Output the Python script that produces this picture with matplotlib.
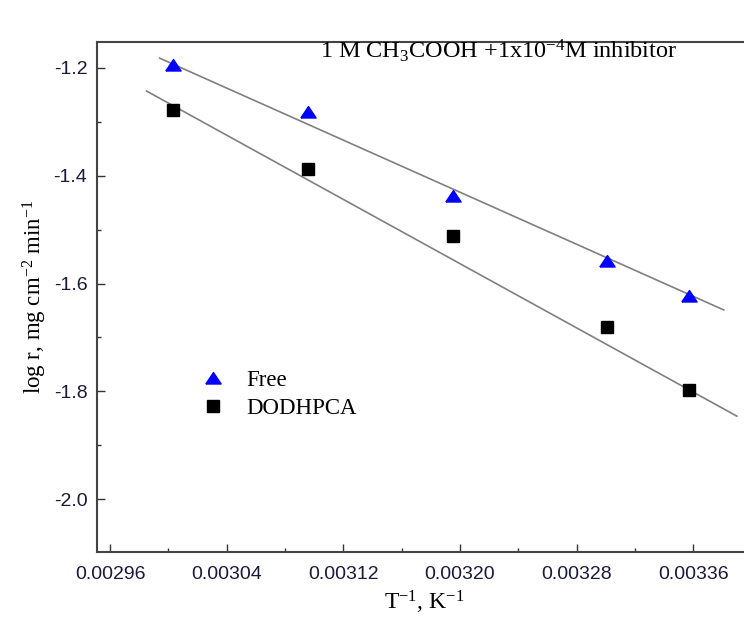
import numpy as np
import matplotlib
matplotlib.use("Agg")
import matplotlib.pyplot as plt
from matplotlib.ticker import MultipleLocator, FormatStrFormatter

plt.rcParams['mathtext.fontset'] = 'custom'
plt.rcParams['mathtext.rm'] = 'Liberation Serif'
plt.rcParams['mathtext.it'] = 'Liberation Serif:italic'

# Data
inv_T = [0.003003, 0.003096, 0.003195, 0.003301, 0.003357]
free = [-1.194, -1.281, -1.437, -1.559, -1.624]
dodhpca = [-1.278, -1.387, -1.512, -1.680, -1.798]
# fitted straight lines (end points)
fit_x_free = [0.002994, 0.003381]
fit_y_free = [-1.182, -1.649]
fit_x_dod = [0.002985, 0.003390]
fit_y_dod = [-1.243, -1.846]
xticks = [0.00296, 0.00304, 0.00312, 0.00320, 0.00328, 0.00336]
yticks = [-2.0, -1.8, -1.6, -1.4, -1.2]

fig = plt.figure(figsize=(7.44, 6.3), dpi=100)
ax = fig.add_axes([97/744, 1-552/630, 1-97/744+0.01, (552-42)/630])

ax.plot(fit_x_free, fit_y_free, color='#808080', lw=1.2, zorder=1)
ax.plot(fit_x_dod, fit_y_dod, color='#808080', lw=1.2, zorder=1)

tri = [(-1, -0.72), (1, -0.72), (0, 0.78), (-1, -0.72)]
ax.plot(inv_T, free, linestyle='none', marker=tri, color='#0000ff', ms=11, label='Free', zorder=3)
ax.plot(inv_T, dodhpca, linestyle='none', marker='s', color='black', ms=8.5, label='DODHPCA', zorder=3)

ax.set_xlim(0.002951, 0.003400)
ax.set_ylim(-2.098, -1.152)
ax.set_xticks(xticks)
ax.set_yticks(yticks)
ax.xaxis.set_minor_locator(MultipleLocator(0.00004))
ax.yaxis.set_minor_locator(MultipleLocator(0.1))
ax.xaxis.set_major_formatter(FormatStrFormatter('%.5f'))
ax.yaxis.set_major_formatter(FormatStrFormatter('%.1f'))
ax.tick_params(which='both', direction='in', color='#333333')
ax.tick_params(which='major', length=6, width=1)
ax.tick_params(which='minor', length=3, width=1)
ax.tick_params(axis='x', pad=10)
ax.tick_params(axis='y', pad=7)
for lab in ax.get_xticklabels() + ax.get_yticklabels():
    lab.set_family('Liberation Sans')
    lab.set_fontsize(14)
    lab.set_color('#1a1a3a')
for s in ('top', 'left', 'bottom'):
    ax.spines[s].set_color('#444444')
    ax.spines[s].set_linewidth(1.5)
ax.spines['right'].set_visible(False)

ax.set_xlabel('T$^{-1}$, K$^{-1}$', family='Liberation Serif', fontsize=17, labelpad=4)
ax.set_ylabel('log r, mg cm$^{-2}$ min$^{-1}$', family='Liberation Serif', fontsize=16.5, labelpad=3)
ax.text(0.34, 0.982, '1 M CH$_3$COOH +1x10$^{-4}$M inhibitor', transform=ax.transAxes,
        family='Liberation Serif', fontsize=17.5, va='center', ha='left')

ax.legend(loc='upper left', bbox_to_anchor=(0.16, 0.356), frameon=False,
          prop={'family': 'Liberation Serif', 'size': 16.5}, handlelength=1.0,
          handletextpad=0.95, labelspacing=0.3, borderpad=0, borderaxespad=0)

fig.savefig('out.png', dpi=100)
